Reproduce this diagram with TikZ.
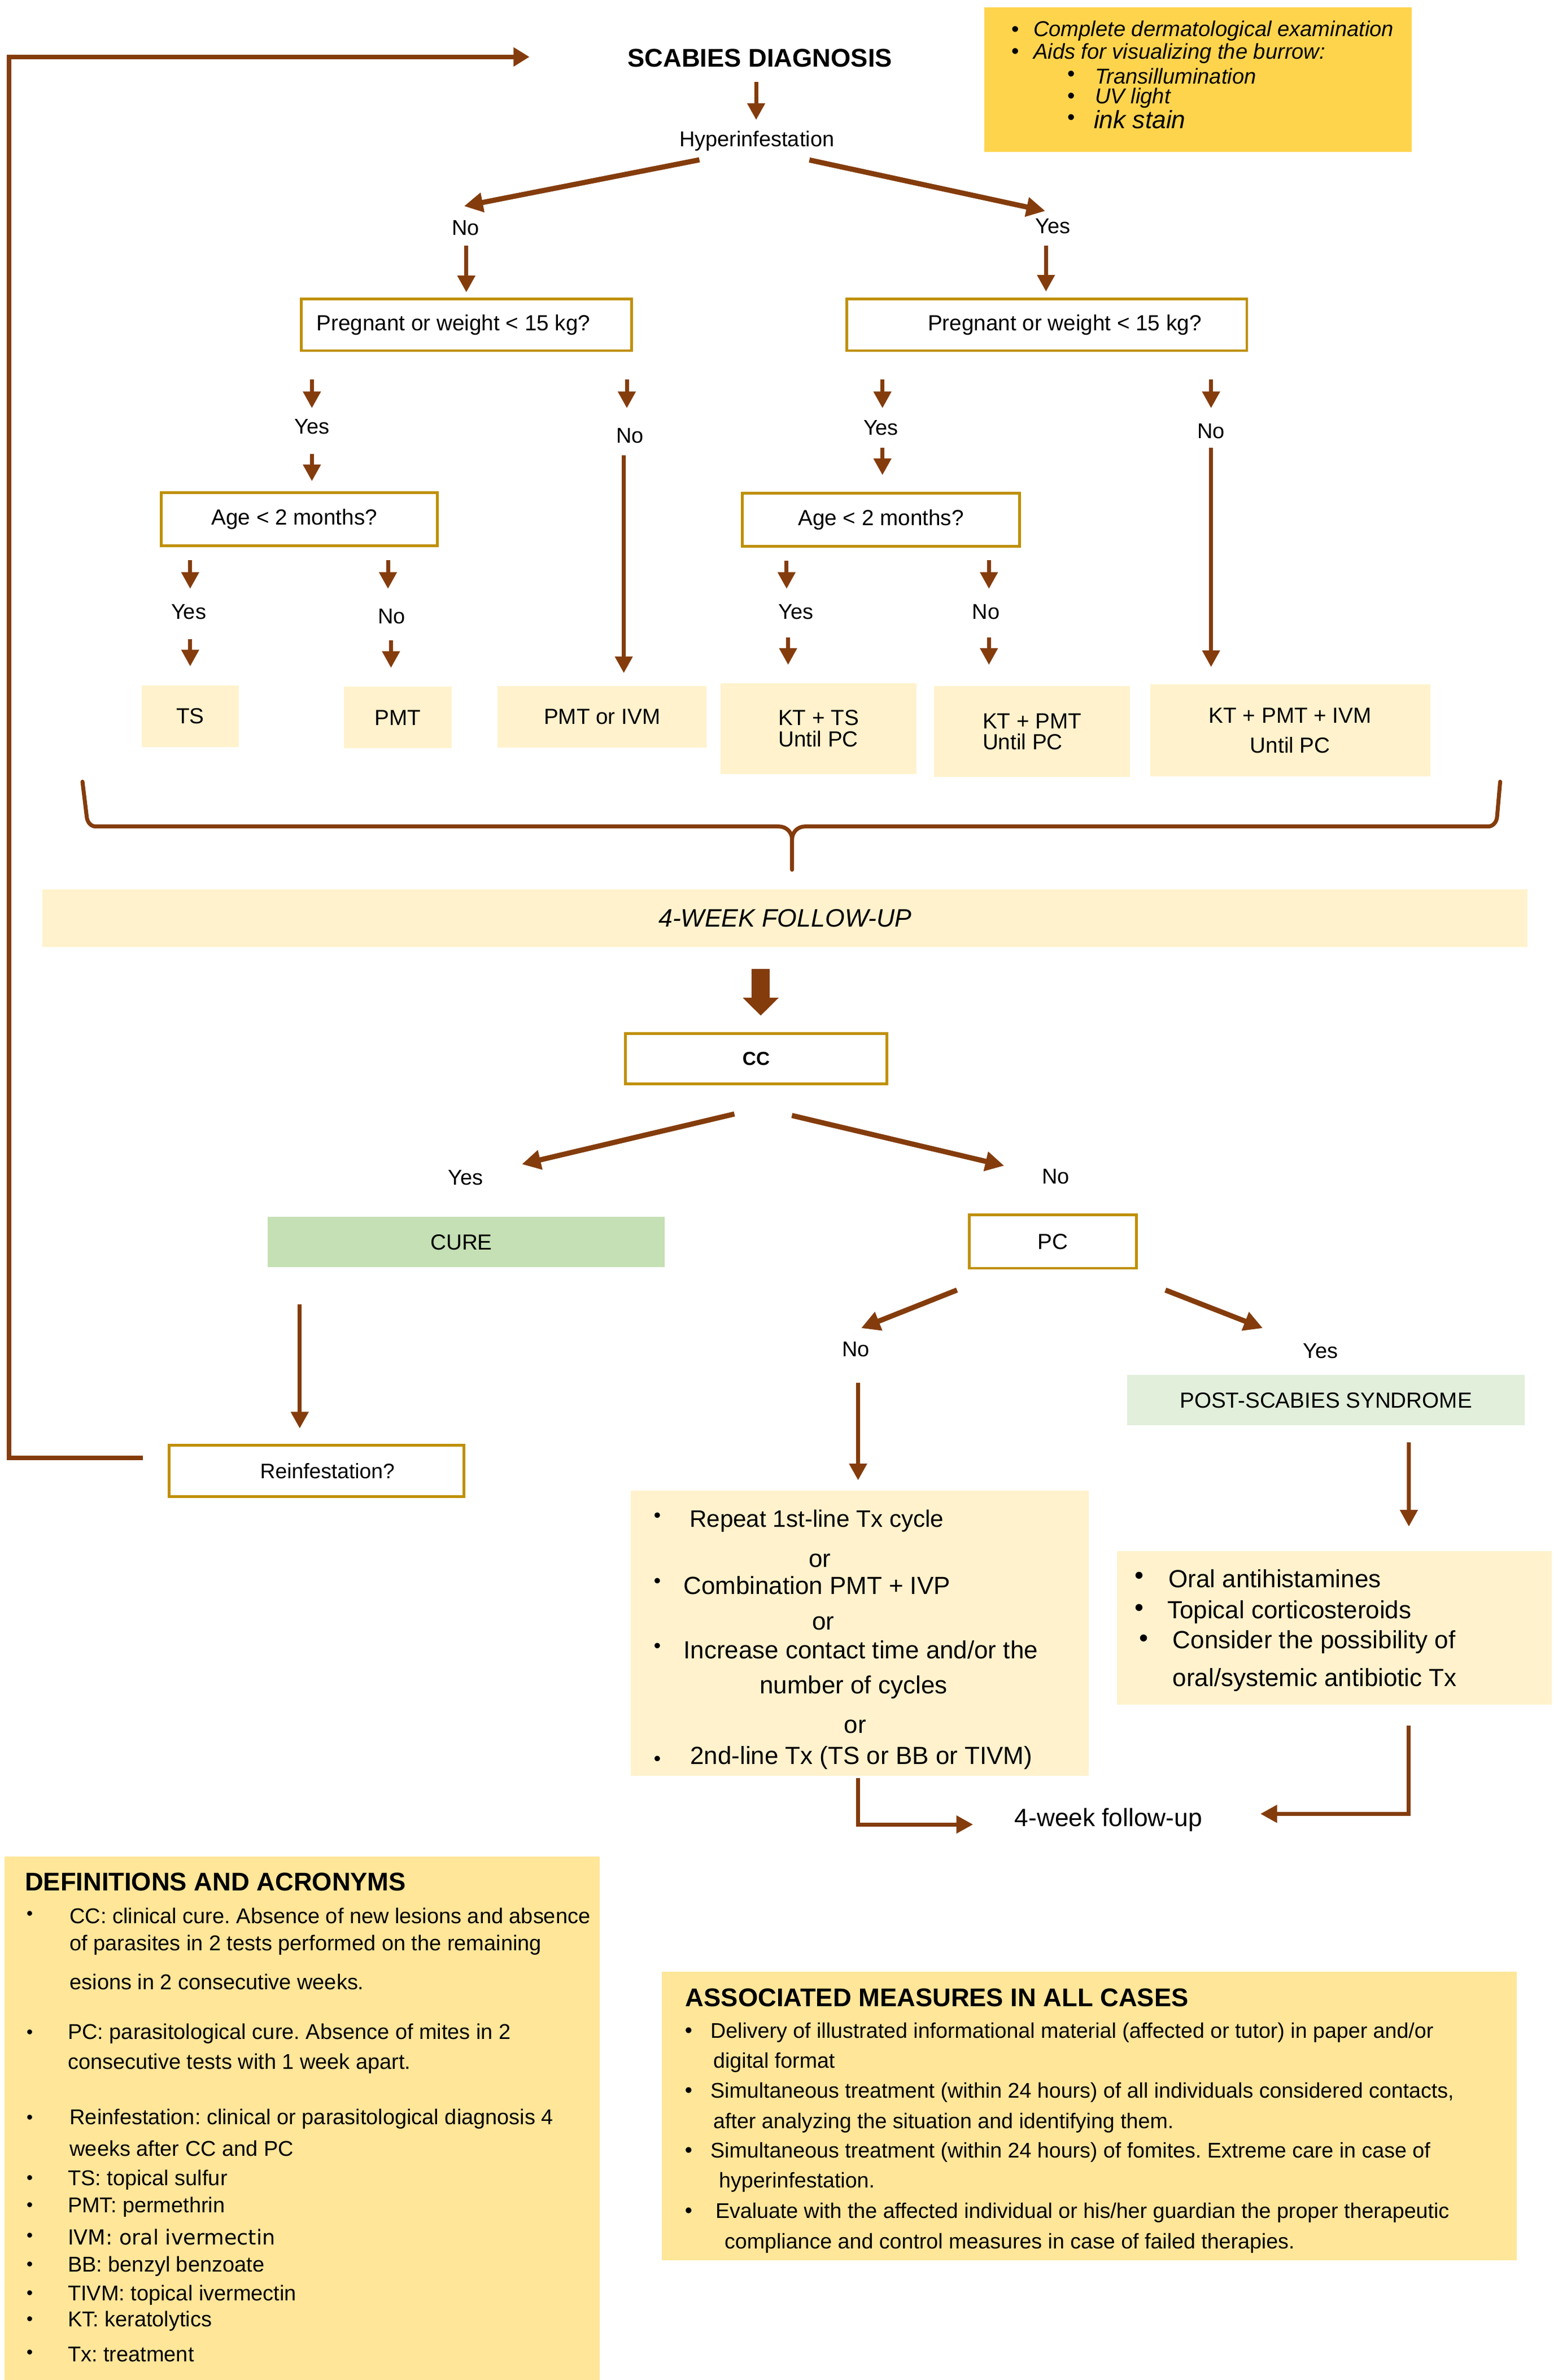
\documentclass[tikz,border=0pt]{standalone}
\usepackage{fontspec}
\setmainfont{Liberation Sans}
\newfontfamily\dejavu{DejaVu Sans}
\usetikzlibrary{arrows.meta,calc}
\definecolor{brn}{HTML}{843C0C}
\definecolor{gld}{HTML}{BF9000}
\definecolor{topy}{HTML}{FFD44D}
\definecolor{cream}{HTML}{FFF2CC}
\definecolor{defy}{HTML}{FFE699}
\definecolor{gcure}{HTML}{C5E0B4}
\definecolor{gpost}{HTML}{E2EFDA}
\newcommand\fsz[2]{\fontsize{#1}{#2}\selectfont}
\frenchspacing
\tikzset{
  sz/.style 2 args={minimum width=#1*0.026953cm, minimum height=#2*0.026881cm},
  lbl/.style={inner sep=0pt, font={\fsz{10.8pt}{13pt}}},
  qbox/.style={draw=gld, line width=1.4pt, fill=white, inner sep=0pt, font={\fsz{11pt}{13pt}}},
  resbox/.style={fill=cream, inner sep=0pt, font={\fsz{11pt}{10.7pt}}, align=left},
  arr/.style={draw=brn, line width=2pt, -{Triangle[width=8.6pt,length=8.4pt]}},
  darr/.style={draw=brn, line width=2.6pt, -{Triangle[width=9.5pt,length=9.5pt]}},
  bigarr/.style={draw=brn, line width=9pt, -{Triangle[width=17.6pt,length=9pt]}},
  fbline/.style={draw=brn, line width=2.2pt, line join=miter, -{Triangle[width=9.2pt,length=8pt]}},
  bracestyle/.style={draw=brn, line width=2pt, line cap=round, line join=round},
  itl/.style={inner sep=0pt, anchor=west, font={\fsz{10.85pt}{13pt}\itshape}},
  bul/.style={inner sep=0pt},
  dtx/.style={inner sep=0pt, anchor=west, font={\fsz{10.8pt}{13pt}}},
  mtx/.style={inner sep=0pt, anchor=west, font={\fsz{10.7pt}{13pt}}},
  btx/.style={inner sep=0pt, anchor=west, font={\fsz{12.5pt}{15pt}}},
  btc/.style={inner sep=0pt, font={\fsz{12.5pt}{15pt}}},
}
\begin{document}
\begin{tikzpicture}[x=0.026953cm,y=-0.026881cm]
\useasboundingbox (0,0) rectangle (1024,1568);

% ---------- top ----------
\node[inner sep=0pt, font={\fsz{12.9pt}{15pt}\bfseries}] (scab) at (499.5,38.4) {SCABIES DIAGNOSIS};
\node[fill=topy, inner sep=0pt, sz={281}{95}] (aids) at (787.5,52.5) {};
\node[bul, font={\fsz{10.85pt}{13pt}}] (b1) at (667.5,20.5) {•};
\node[itl] (t1) at (679,20.5) {Complete dermatological examination};
\node[bul, font={\fsz{10.85pt}{13pt}}] (b2) at (667.5,35.3) {•};
\node[itl] (t2) at (679,35.3) {Aids for visualizing the burrow:};
\node[bul, font={\fsz{10.85pt}{13pt}}] (b3) at (704,50.2) {•};
\node[itl] (t3) at (719.5,50.2) {Transillumination};
\node[bul, font={\fsz{10.85pt}{13pt}}] (b4) at (704,64.5) {•};
\node[itl] (t4) at (719.5,64.5) {UV light};
\node[bul, font={\fsz{10.85pt}{13pt}}] (b5) at (704,78.7) {•};
\node[itl, font={\fsz{12.6pt}{14pt}\itshape}] (t5) at (718.7,78.7) {ink stain};

\node[lbl] (hyper) at (497.4,93) {Hyperinfestation};
\node[lbl] (no1) at (306,150) {No};
\node[lbl] (yes1) at (692,149) {Yes};

\node[qbox, sz={217}{34}] (preg1) at (306.5,214) {\hspace*{-13pt}Pregnant or weight < 15 kg?};
\node[qbox, sz={263}{34}] (preg2) at (688,214) {Pregnant or weight < 15 kg?\hspace*{-18pt}};

\node[lbl] (yes2) at (205,281) {Yes};
\node[lbl] (no2) at (414,287) {No};
\node[qbox, sz={181.5}{35}] (age1) at (196.75,342) {\hspace*{-5pt}Age < 2 months?};
\node[lbl] (yes3) at (124,403) {Yes};
\node[lbl] (no3) at (257.5,406) {No};
\node[resbox, sz={64}{40.5}] (ts) at (125,471.75) {TS};
\node[resbox, sz={71}{40.5}] (pmt) at (261.5,472.75) {PMT};
\node[resbox, sz={137.5}{40.5}] (pmtivm) at (395.75,472.25) {PMT or IVM};

\node[lbl] (yes4) at (579,282) {Yes};
\node[lbl] (no4) at (796,284) {No};
\node[qbox, sz={182}{35}] (age2) at (579,342.5) {Age < 2 months?};
\node[lbl] (yes5) at (523,403) {Yes};
\node[lbl] (no5) at (648,403) {No};
\node[resbox, sz={129}{60}] (kts) at (538,480) {KT + TS\\Until PC};
\node[resbox, sz={128.6}{60}] (ktpmt) at (678.3,482) {KT + PMT\\Until PC};
\node[resbox, sz={184}{60.5}, align=center, font={\fsz{11pt}{15pt}}] (ktpmtivm) at (848,481.25) {KT + PMT + IVM\\Until PC};

% arrows top part
\draw[arr] ($(scab)+(-2.5,15.6)$) -- ($(hyper)+(-0.4,-14)$);
\draw[darr] ($(hyper)+(-37.7,12.3)$) -- ($(no1)+(-1,-14.2)$);
\draw[darr] ($(hyper)+(34.6,12.4)$) -- ($(yes1)+(-5,-10)$);
\draw[arr] ($(no1)+(0.5,12)$) -- ($(preg1.north)+(0,-3.5)$);
\draw[arr] ($(yes1)+(-4.5,13)$) -- ($(preg2.north)+(-0.5,-4)$);
\draw[arr] ($(preg1.south)+(-101.5,18)$) -- ++(0,19);
\draw[arr] ($(yes2)+(0,18)$) -- ++(0,18);
\draw[arr] ($(preg1.south)+(105.5,18)$) -- ++(0,19);
\draw[arr] ($(no2)+(-4,13)$) -- ($(pmtivm.north)+(14.25,-8.3)$);
\draw[arr] ($(age1.south)+(-71.75,8.5)$) -- ++(0,19);
\draw[arr] ($(yes3)+(1,18)$) -- ++(0,18);
\draw[arr] ($(age1.south)+(58.25,8.5)$) -- ++(0,19);
\draw[arr] ($(no3)+(-0.5,16)$) -- ++(0,18);
\draw[arr] ($(preg2.south)+(-108,18)$) -- ++(0,19);
\draw[arr] ($(yes4)+(1,13)$) -- ++(0,18);
\draw[arr] ($(preg2.south)+(108,18)$) -- ++(0,19);
\draw[arr] ($(no4)+(0,11)$) -- ($(ktpmtivm.north)+(-52,-11.3)$);
\draw[arr] ($(age2.south)+(-62,8.6)$) -- ++(0,18.4);
\draw[arr] ($(yes5)+(-5,17)$) -- ++(0,18);
\draw[arr] ($(age2.south)+(71,8)$) -- ++(0,19);
\draw[arr] ($(no5)+(2,17)$) -- ++(0,18);

% brace
\draw[bracestyle] (54.2,515) -- (57,538) to[out=-85,in=180] (63,544.5) -- (512,544.5) to[out=0,in=90] (520.6,553) -- (520.6,573);
\draw[bracestyle] (986,515) -- (984,538) to[out=-95,in=0] (978,544.5) -- (529,544.5) to[out=180,in=90] (520.6,553);

% follow-up band
\node[fill=cream, inner sep=0pt, sz={976}{38}, font={\fsz{12.7pt}{15pt}\itshape}] (band) at (516,605) {4-WEEK FOLLOW-UP};
\node[qbox, sz={172}{33}, font={\fsz{9.5pt}{11pt}\bfseries}] (cc) at (497,697.5) {CC};
\draw[bigarr] ($(band.south)+(-16,14)$) -- ($(cc.north)+(3,-11)$);

\node[lbl] (yes6) at (306,776) {Yes};
\node[lbl] (no6) at (694,775) {No};
\draw[darr] ($(cc.south)+(-14.3,19)$) -- ($(yes6)+(37,-9)$);
\draw[darr] ($(cc.south)+(23.5,20)$) -- ($(no6)+(-34,-7)$);

\node[fill=gcure, inner sep=0pt, sz={261}{33.3}, font={\fsz{11pt}{13pt}}] (cure) at (306.5,818.3) {\hspace*{-5pt}CURE};
\node[qbox, sz={110}{35}] (pc) at (692,818) {PC};
\node[lbl] (no7) at (562.5,889) {No};
\node[lbl] (yes7) at (868,890) {Yes};
\draw[darr] ($(pc.south)+(-63,13.5)$) -- ($(no7)+(3.5,-14)$);
\draw[darr] ($(pc.south)+(74,13.5)$) -- ($(yes7)+(-38,-15)$);
\node[fill=gpost, inner sep=0pt, sz={261}{33}, font={\fsz{11pt}{13pt}}] (post) at (871.5,922.5) {POST-SCABIES SYNDROME};

\node[qbox, sz={194}{34}, font={\fsz{10.6pt}{13pt}}] (reinf) at (208,969) {Reinfestation?\hspace*{-11pt}};
\draw[arr] ($(cure.south)+(-109.5,24)$) -- ($(reinf.north)+(-11,-10)$);

% feedback loop
\coordinate (fbc) at (6,37.5);
\coordinate (fbe) at (348,37.5);
\draw[fbline] ($(reinf.west)+(-16,-8.5)$) -| (fbc) -- (fbe);

% left bullet box
\node[fill=cream, inner sep=0pt, sz={301}{188}] (lbox) at (565.2,1076) {};
\node[bul, font={\fsz{10pt}{12pt}}] at (432,999.7) {•};
\node[btx, font={\fsz{12pt}{15pt}}] at (453,1002) {Repeat 1st-line Tx cycle};
\node[btc] at (538.8,1028) {or};
\node[bul, font={\fsz{10pt}{12pt}}] at (432,1042.9) {•};
\node[btx] at (449,1044.5) {Combination PMT + IVP};
\node[btc] at (541,1069.4) {or};
\node[bul, font={\fsz{10pt}{12pt}}] at (432,1085.6) {•};
\node[btx] at (449,1086.8) {Increase contact time and/or the};
\node[btc] at (561,1111.7) {number of cycles};
\node[btc] at (562,1137.5) {or};
\node[bul, font={\fsz{10pt}{12pt}}] at (432,1160) {•};
\node[btx] at (453.5,1158) {2nd-line Tx (TS or BB or TIVM)};

% right bullet box
\node[fill=cream, inner sep=0pt, sz={286}{101}] (rbox) at (877,1072.5) {};
\node[bul, font={\fsz{13pt}{15pt}}] at (748.8,1039.5) {•};
\node[btx] at (767.9,1040) {Oral antihistamines};
\node[bul, font={\fsz{13pt}{15pt}}] at (748.8,1060.7) {•};
\node[btx] at (767,1062) {Topical corticosteroids};
\node[bul, font={\fsz{13pt}{15pt}}] at (751.6,1081) {•};
\node[btx] at (770.6,1082) {Consider the possibility of};
\node[btx] at (770.6,1106.8) {oral/systemic antibiotic Tx};

\draw[arr] ($(no7)+(1.5,22)$) -- ($(lbox.north)+(-1.2,-6.5)$);
\draw[arr] ($(post.south)+(54.5,11)$) -- ($(rbox.north)+(49,-16)$);

\node[inner sep=0pt, font={\fsz{12.6pt}{15pt}}] (fu) at (728.5,1199) {4-week follow-up};
\draw[arr] ($(lbox.south)+(-1.2,1)$) |- ($(fu.west)+(-27,3)$);
\draw[arr] ($(rbox.south)+(49,13.5)$) |- ($(fu.east)+(38,-4)$);

% definitions
\node[fill=defy, inner sep=0pt, sz={391}{345}] (defs) at (198.5,1395.5) {};
\node[inner sep=0pt, anchor=west, font={\fsz{12.9pt}{15pt}\bfseries}] at (16.1,1240) {DEFINITIONS AND ACRONYMS};
\foreach \yy in {1262,1340,1396,1436,1454,1474,1493,1512,1529,1551}
  \node[bul, font={\fsz{9pt}{11pt}}] at (19.5,\yy) {•};
\node[dtx] at (45.6,1262) {CC: clinical cure. Absence of new lesions and absence};
\node[dtx] at (45.6,1281.6) {of parasites in 2 tests performed on the remaining};
\node[dtx] at (45.6,1305.6) {esions in 2 consecutive weeks.};
\node[dtx] at (44.3,1340) {PC: parasitological cure. Absence of mites in 2};
\node[dtx] at (44.3,1359.7) {consecutive tests with 1 week apart.};
\node[dtx] at (45.6,1396) {Reinfestation: clinical or parasitological diagnosis 4};
\node[dtx] at (45.6,1415.6) {weeks after CC and PC};
\node[dtx] at (44.3,1436) {TS: topical sulfur};
\node[dtx] at (44.3,1454) {PMT: permethrin};
\node[dtx, font={\fsz{10.4pt}{13pt}\dejavu}] at (44.3,1474) {IVM: oral ivermectin};
\node[dtx] at (44.3,1493) {BB: benzyl benzoate};
\node[dtx] at (44.3,1512) {TIVM: topical ivermectin};
\node[dtx] at (44.3,1529) {KT: keratolytics};
\node[dtx] at (44.3,1551) {Tx: treatment};

% associated measures
\node[fill=defy, inner sep=0pt, sz={562}{190}] (meas) at (716,1394) {};
\node[inner sep=0pt, anchor=west, font={\fsz{12.9pt}{15pt}\bfseries}] at (450.3,1316) {ASSOCIATED MEASURES IN ALL CASES};
\foreach \yy in {1339,1378.7,1417.8,1457.6}
  \node[bul, font={\fsz{10.7pt}{13pt}}] at (452.6,\yy) {•};
\node[mtx] at (466.7,1339) {Delivery of illustrated informational material (affected or tutor) in paper and/or};
\node[mtx] at (468.6,1359) {digital format};
\node[mtx] at (466.7,1378.7) {Simultaneous treatment (within 24 hours) of all individuals considered contacts,};
\node[mtx] at (468.6,1398.6) {after analyzing the situation and identifying them.};
\node[mtx] at (466.7,1417.8) {Simultaneous treatment (within 24 hours) of fomites. Extreme care in case of};
\node[mtx] at (472.3,1437.8) {hyperinfestation.};
\node[mtx] at (470,1457.6) {Evaluate with the affected individual or his/her guardian the proper therapeutic};
\node[mtx] at (476,1477.7) {compliance and control measures in case of failed therapies.};
\end{tikzpicture}
\end{document}
